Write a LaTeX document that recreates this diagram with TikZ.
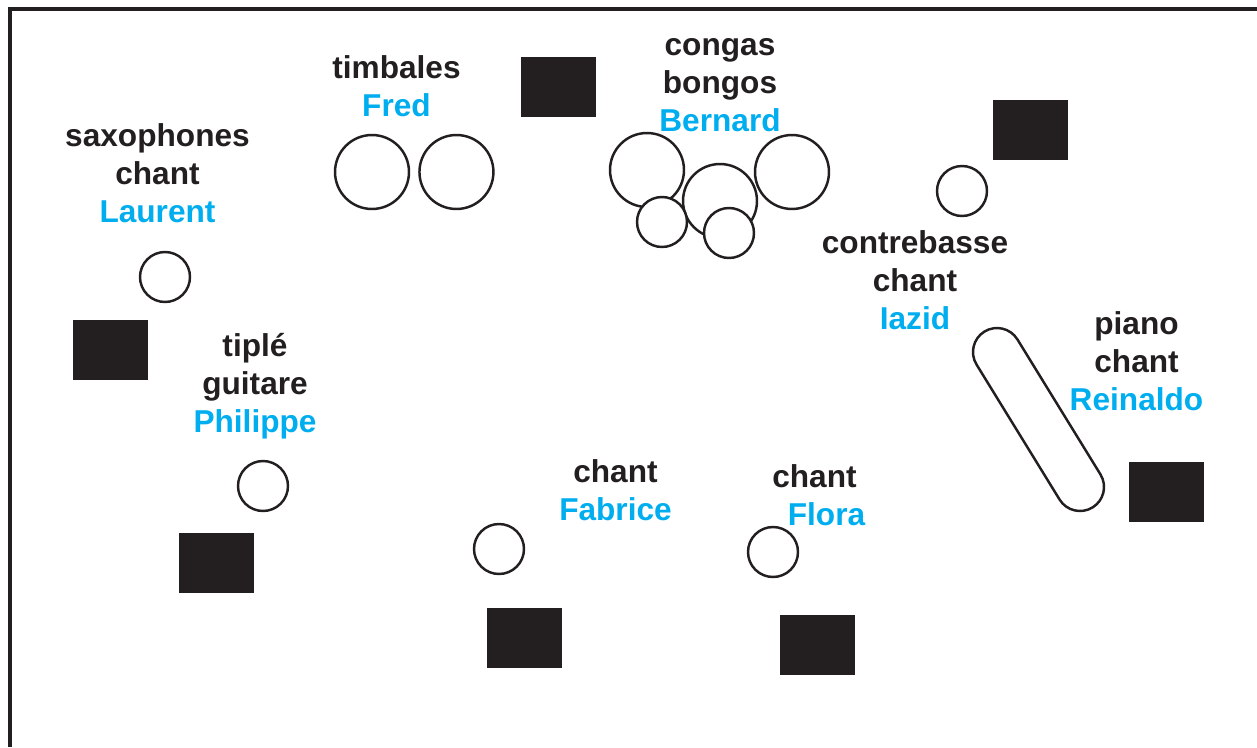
\documentclass[tikz,border=0pt]{standalone}
\usepackage{fontspec}
\setmainfont{Liberation Sans}
\usetikzlibrary{positioning}

\definecolor{ink}{HTML}{231F20}
\definecolor{name}{HTML}{00AEEF}

\tikzset{
  role/.style={font=\fontsize{18}{21.6}\selectfont\bfseries, text=ink, align=center, inner sep=0pt, anchor=base},
  mic/.style={circle, draw=ink, line width=1.4pt, fill=white, minimum size=1cm, inner sep=0pt},
  drum/.style={mic, minimum size=1.48cm},
  amp/.style={rectangle, fill=ink, minimum width=1.5cm, minimum height=1.2cm, inner sep=0pt},
  piano/.style={rectangle, draw=ink, line width=1.4pt, rounded corners=0.48cm, minimum width=4.13cm, minimum height=0.96cm, inner sep=0pt},
}
\newcommand{\who}[1]{\textcolor{name}{#1}}

\begin{document}
\begin{tikzpicture}[x=0.02cm, y=-0.02cm]

    \useasboundingbox (0,0) rectangle (1257,747);

    % Stage frame
    \draw[ink, line width=2pt] (10,747) -- (10,9) -- (1257,9);

    % Define labels (base = last line)
    \node[role] (sax)     at (157.5,222) {saxophones\\chant\\\who{Laurent}};
    \node[role] (tim)     at (396.5,116) {timbales\\\who{Fred}};
    \node[role] (congas)  at (720,131)   {congas\\bongos\\\who{Bernard}};
    \node[role] (bass)    at (915,329)   {contrebasse\\chant\\\who{Iazid}};
    \node[role] (pianist) at (1136.5,410) {piano\\chant\\\who{Reinaldo}};
    \node[role] (tiple)   at (255,432)   {tiplé\\guitare\\\who{Philippe}};
    \node[role] (fabrice) at (615.5,520) {chant\\\who{Fabrice}};
    \node[role] (chant-f) at (814.5,487) {chant};
    \node[role] (flora)   at (826.5,525) {\who{Flora}};

    % Drums
    \node[drum] (tim-l) at (372,172) {};
    \node[drum, right=0.16cm of tim-l] (tim-r) {};
    \node[drum] (conga-l) at (647,170) {};
    \node[drum] (conga-r) at (792,172) {};
    \node[drum] (conga-m) at (720,201) {};
    \node[mic]  (bongo-l) at (662,222) {};
    \node[mic]  (bongo-r) at (729,233) {};

    % Mics
    \node[mic] (mic-laurent)  at (165,277) {};
    \node[mic] (mic-iazid)    at (962,191) {};
    \node[mic] (mic-philippe) at (263,486) {};
    \node[mic] (mic-fabrice)  at (499,549) {};
    \node[mic] (mic-flora)    at (773,552) {};

    % Piano
    \node[piano, rotate=-58.4] (keys) at (1038.5,419.5) {};

    % Monitors
    \node[amp] (amp-drums)   at (558.5,87)   {};
    \node[amp] (amp-bass)    at (1030.5,130) {};
    \node[amp] (amp-laurent) at (110.5,350)  {};
    \node[amp] (amp-tiple)   at (216.5,563)  {};
    \node[amp] (amp-fabrice) at (524.5,638)  {};
    \node[amp] (amp-flora)   at (817.5,645)  {};
    \node[amp] (amp-piano)   at (1166.5,492) {};

\end{tikzpicture}
\end{document}
